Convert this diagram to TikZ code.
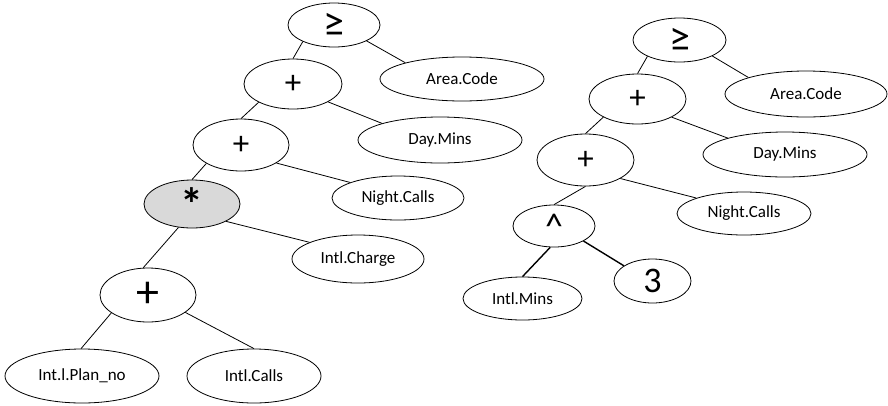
\documentclass[tikz,border=0pt]{standalone}
\usepackage{fontspec}
\setmainfont{Carlito}
\usetikzlibrary{shapes.geometric}
\tikzset{
  tnode/.style={draw, ellipse, line width=0.8pt, inner sep=0pt, fill=white},
  leaf/.style={tnode, font=\fontsize{17}{17}\selectfont},
  opnode/.style={tnode, font=\fontsize{33}{33}\selectfont},
  geqnode/.style={tnode, font=\fontsize{42}{42}\selectfont},
  link/.style={line width=0.8pt},
  boldlink/.style={line width=1.4pt},
}
\begin{document}
\begin{tikzpicture}[x=1pt, y=-1pt]
\useasboundingbox (0,0) rectangle (888,405);

% left expression tree
\node[geqnode, minimum width=92pt, minimum height=44pt] (L0) at (334,25) {≥};
\node[opnode, minimum width=98pt, minimum height=50pt] (L1) at (293,84) {+};
\node[opnode, minimum width=96pt, minimum height=52pt] (L2) at (241,145) {+};
\node[opnode, fill=gray!30, font=\fontsize{46}{46}\selectfont\bfseries, minimum width=96pt, minimum height=48pt] (L3) at (192,204) {*};
\node[opnode, font=\fontsize{46}{46}\selectfont, minimum width=96pt, minimum height=54pt] (L4) at (148,295) {+};
\node[leaf, minimum width=164pt, minimum height=44pt] (LA) at (462,79) {Area.Code};
\node[leaf, minimum width=164pt, minimum height=46pt] (LD) at (440,140) {Day.Mins};
\node[leaf, minimum width=132pt, minimum height=44pt] (LN) at (398,198) {Night.Calls};
\node[leaf, minimum width=132pt, minimum height=48pt] (LC) at (358,259) {Intl.Charge};
\node[leaf, minimum width=154pt, minimum height=54pt] (LP) at (82,376) {Int.l.Plan\_no};
\node[leaf, minimum width=134pt, minimum height=54pt] (LI) at (254,376) {Intl.Calls};

\draw[link] (L0.208) -- (L1.90);
\draw[link] (L0.-26) -- (LA.164);
\draw[link] (L1.208) -- (L2.90);
\draw[link] (L1.-27) -- (LD.164);
\draw[link] (L2.208) -- (L3.90);
\draw[link] (L2.-27) -- (LN.162);
\draw[link] (L3.240) -- (L4.100);
\draw[link] (L3.-27) -- (LC.161);
\draw[link] (L4.206) -- (LP.92);
\draw[link] (L4.-25) -- (LI.90);

% right expression tree
\node[geqnode, minimum width=93pt, minimum height=44pt] (R0) at (679.5,40) {≥};
\node[opnode, minimum width=97pt, minimum height=50pt] (R1) at (637.5,99) {+};
\node[opnode, minimum width=97pt, minimum height=52pt] (R2) at (585.5,160) {+};
\node[opnode, font=\fontsize{36}{36}\selectfont, minimum width=82pt, minimum height=42pt] (R3) at (554,226) {\textasciicircum};
\node[leaf, minimum width=119pt, minimum height=43pt] (RM) at (522.5,298.5) {Intl.Mins};
\node[opnode, font=\fontsize{36}{36}\selectfont, minimum width=77pt, minimum height=44pt] (RT) at (652.5,281) {3};
\node[leaf, minimum width=162pt, minimum height=46pt] (RA) at (806,94) {Area.Code};
\node[leaf, minimum width=164pt, minimum height=45pt] (RD) at (785,154.5) {Day.Mins};
\node[leaf, minimum width=134pt, minimum height=43pt] (RN) at (744,213.5) {Night.Calls};

\draw[link] (R0.207) -- (R1.90);
\draw[link] (R0.-26) -- (RA.164);
\draw[link] (R1.208) -- (R2.90);
\draw[link] (R1.-28) -- (RD.164);
\draw[link] (R2.270) -- (R3.90);
\draw[link] (R2.-28) -- (RN.162);
\draw[boldlink] (R3.260) -- (RM.90);
\draw[boldlink] (R3.-27) -- (RT.152);
\end{tikzpicture}
\end{document}
